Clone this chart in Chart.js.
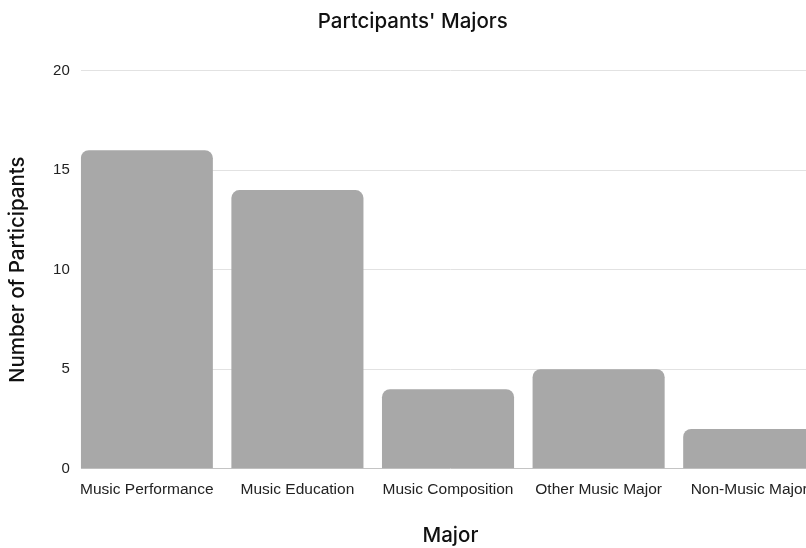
<!DOCTYPE html>
<html>
<head>
<meta charset="utf-8">
<script src="https://cdn.jsdelivr.net/npm/chart.js@4.4.1/dist/chart.umd.min.js"></script>
<style>
  html, body { margin: 0; padding: 0; background: #fff; overflow: hidden; }
  #wrap { width: 806px; height: 548px; overflow: hidden; }
  #box { width: 820px; height: 548px; }
</style>
</head>
<body>
<div id="wrap"><div id="box"><canvas id="c"></canvas></div></div>
<script>
const categories = ['Music Performance', 'Music Education', 'Music Composition', 'Other Music Major', 'Non-Music Major'];
const participants = [16, 14, 4, 5, 2];
const yTicks = [0, 5, 10, 15, 20];

const headingFont = "Inter, 'Open Sans', sans-serif";
const tickFont = "'Liberation Sans', Arial, sans-serif";

new Chart(document.getElementById('c'), {
  type: 'bar',
  data: {
    datasets: [{
      label: 'Number of Participants',
      data: participants.map((v, i) => ({ x: i, y: v })),
      backgroundColor: '#a8a8a8',
      borderRadius: { topLeft: 8, topRight: 8, bottomLeft: 0, bottomRight: 0 },
      borderSkipped: 'bottom',
      categoryPercentage: 1,
      barPercentage: 0.877
    }]
  },
  options: {
    responsive: true,
    maintainAspectRatio: false,
    animation: false,
    layout: { padding: { left: 5.5, right: 0, top: 0, bottom: 0 } },
    plugins: {
      legend: { display: false },
      tooltip: { enabled: false },
      title: {
        display: true,
        text: "Partcipants' Majors",
        color: '#111',
        font: { family: headingFont, size: 20.5, weight: '500' },
        padding: { top: 10, bottom: 36 }
      }
    },
    scales: {
      x: {
        type: 'linear',
        offset: false,
        min: -0.4385,
        max: 4.47,
        grid: { display: false, offset: false },
        border: { display: false },
        afterBuildTicks: (axis) => {
          axis.ticks = categories.map((_, i) => ({ value: i }));
        },
        ticks: {
          autoSkip: false,
          maxRotation: 0,
          padding: 4,
          color: '#222',
          font: { family: tickFont, size: 15.5 },
          callback: (v) => categories[v]
        },
        title: {
          display: true,
          text: 'Major',
          color: '#111',
          font: { family: headingFont, size: 20.5, weight: '500' },
          padding: { top: 20, bottom: 0 }
        }
      },
      y: {
        min: 0,
        max: 20,
        afterBuildTicks: (axis) => {
          axis.ticks = yTicks.map(v => ({ value: v }));
        },
        grid: {
          drawTicks: false,
          color: (ctx) => ctx.tick && ctx.tick.value === 0 ? '#c4c4c4' : '#e2e2e2',
          lineWidth: 1
        },
        border: { display: false },
        ticks: {
          padding: 11,
          color: '#222',
          font: { family: tickFont, size: 15 }
        },
        title: {
          display: true,
          text: 'Number of Participants',
          color: '#111',
          font: { family: headingFont, size: 20.5, weight: '500' },
          padding: { top: 0, bottom: 12 }
        }
      }
    }
  }
});
</script>
</body>
</html>
